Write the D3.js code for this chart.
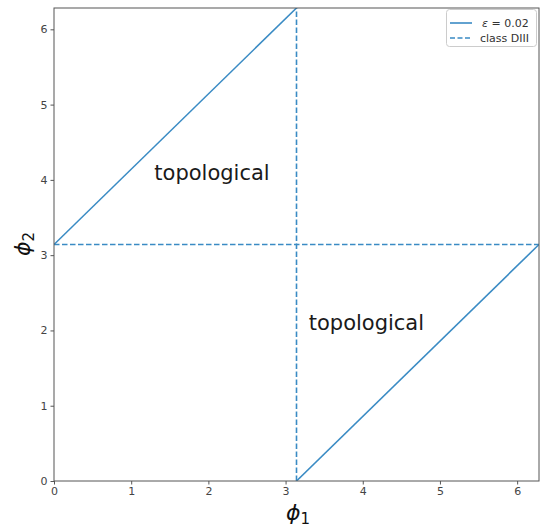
<!DOCTYPE html>
<html><head><meta charset="utf-8">
<script src="https://cdn.jsdelivr.net/npm/d3@7"></script>
<style>body{margin:0;background:#fff}svg{display:block}</style>
</head><body>
<script>
const PI = Math.PI;
const xTicks = [0,1,2,3,4,5,6];
const yTicks = [0,1,2,3,4,5,6];
const lineA = [[0, PI],[PI, 2*PI]];
const lineB = [[PI, 0],[2*PI, PI]];
const dashV = [[PI, 0],[PI, 2*PI]];
const dashH = [[0, PI],[2*PI, PI]];
const labels = [{x:1.3, y:4.0, t:"topological"},{x:3.3, y:2.0, t:"topological"}];
const legendItems = [{sym:"ε", name:" = 0.02", dash:null},{sym:"", name:"class DIII", dash:"5,2.5"}];

const W=540,H=529;
const m={l:54,r:539,t:8,b:481};
const svg=d3.select("body").append("svg").attr("width",W).attr("height",H);
const x=d3.scaleLinear().domain([0,2*PI]).range([m.l,m.r]);
const y=d3.scaleLinear().domain([0,2*PI]).range([m.b,m.t]);
const col="#3a8bc4";
const line=d3.line().x(d=>x(d[0])).y(d=>y(d[1]));

const g=svg.append("g");
g.append("clipPath").attr("id","c").append("rect").attr("x",m.l).attr("y",m.t).attr("width",m.r-m.l).attr("height",m.b-m.t);
const pg=g.append("g").attr("clip-path","url(#c)");
[lineA,lineB].forEach(d=>pg.append("path").attr("d",line(d)).attr("fill","none").attr("stroke",col).attr("stroke-width",1.6));
[dashV,dashH].forEach(d=>pg.append("path").attr("d",line(d)).attr("fill","none").attr("stroke",col).attr("stroke-width",1.6).attr("stroke-dasharray","5.5,2.5"));

labels.forEach(l=>g.append("text").attr("x",x(l.x)).attr("y",y(l.y)).text(l.t)
  .attr("font-family","DejaVu Sans").attr("font-size",21).attr("fill","#1a1a1a"));

const ax=g.append("g").attr("transform",`translate(0,${m.b})`).call(d3.axisBottom(x).tickValues(xTicks).tickFormat(d3.format("d")).tickSize(3.5).tickPadding(3));
const ay=g.append("g").attr("transform",`translate(${m.l},0)`).call(d3.axisLeft(y).tickValues(yTicks).tickFormat(d3.format("d")).tickSize(3.5).tickPadding(3));
[ax,ay].forEach(a=>{a.select(".domain").remove();a.selectAll("line").attr("stroke","#555");
  a.selectAll("text").attr("font-family","DejaVu Sans").attr("font-size",11).attr("fill","#444");});
g.append("rect").attr("x",m.l).attr("y",m.t).attr("width",m.r-m.l).attr("height",m.b-m.t).attr("fill","none").attr("stroke","#555").attr("stroke-width",1);

// axis labels
const xl=svg.append("text").attr("x",286).attr("y",520).attr("font-family","DejaVu Sans").attr("font-size",22).attr("fill","#111");
xl.append("tspan").attr("font-style","italic").text("ϕ");
xl.append("tspan").attr("font-size",15).attr("dy",4).text("1");
const yl=svg.append("text").attr("transform","translate(30,244) rotate(-90)").attr("font-family","DejaVu Sans").attr("font-size",22).attr("fill","#111").attr("text-anchor","middle");
yl.append("tspan").attr("font-style","italic").text("ϕ");
yl.append("tspan").attr("font-size",15).attr("dy",4).text("2");

// legend
const lg=svg.append("g");
lg.append("rect").attr("x",446.5).attr("y",9.5).attr("width",90).attr("height",37).attr("rx",3).attr("fill","#fff").attr("stroke","#ccc");
legendItems.forEach((it,i)=>{
  const yy=23+i*15;
  lg.append("line").attr("x1",450).attr("x2",472).attr("y1",yy).attr("y2",yy).attr("stroke",col).attr("stroke-width",1.6).attr("stroke-dasharray",it.dash);
  const t=lg.append("text").attr("x",i==0?482:480).attr("y",yy+4).attr("font-family","DejaVu Sans").attr("font-size",11).attr("fill","#333");
  if(it.sym) t.append("tspan").attr("font-style","italic").text(it.sym);
  t.append("tspan").text(it.name);
});
</script>
</body></html>
